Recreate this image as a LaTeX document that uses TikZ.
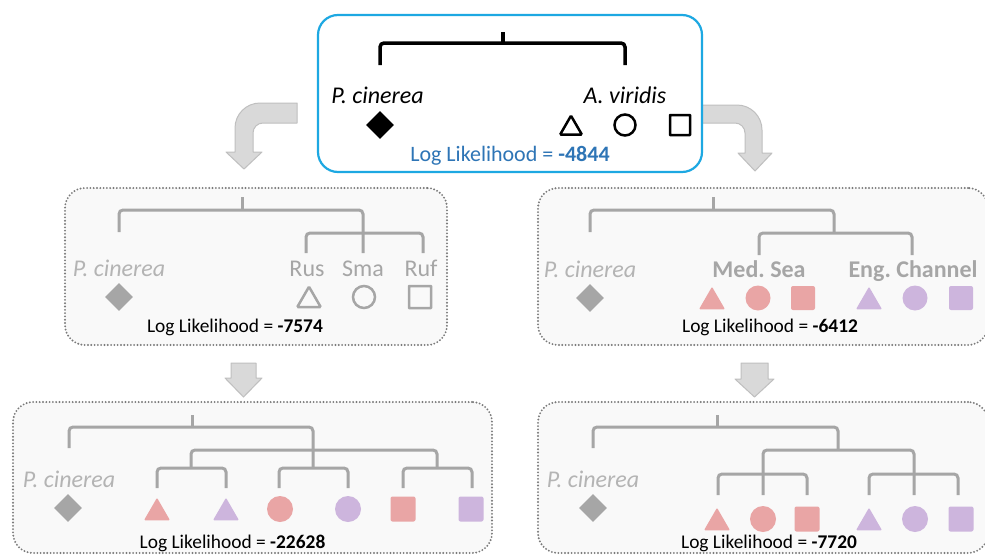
\documentclass[tikz,border=0pt]{standalone}
\usepackage{fontspec}
\setmainfont{Carlito}
\frenchspacing
\usetikzlibrary{shapes.geometric}
\definecolor{boxblue}{HTML}{1DA8E2}
\definecolor{txtblue}{HTML}{2E75B6}
\definecolor{treegray}{HTML}{A6A6A6}
\definecolor{lblgray}{HTML}{A6A6A6}
\definecolor{italgray}{HTML}{B4B4B4}
\definecolor{pinkc}{HTML}{E9A5A5}
\definecolor{purpc}{HTML}{CDB5DD}
\definecolor{arrfill}{HTML}{D9D9D9}
\definecolor{arrline}{HTML}{BFBFBF}
\definecolor{boxfill}{HTML}{F9F9F9}
\definecolor{dotgray}{HTML}{7A7A7A}
\tikzset{
  topbox/.style={draw=boxblue, line width=2.2pt, rounded corners=20pt, fill=white, inner sep=0pt},
  dotbox/.style={draw=dotgray, line width=2.1pt, dash pattern=on 0pt off 3.3pt, line cap=round, rounded corners=20pt, fill=boxfill, inner sep=0pt},
  lbl/.style={font=\fontsize{24}{28}\selectfont, anchor=base, inner sep=0pt},
  llk/.style={font=\fontsize{19.4}{23}\selectfont, anchor=base, inner sep=0pt},
  tree/.style={line width=3pt, draw=treegray, rounded corners=4pt},
  arrowsty/.style={fill=arrfill, draw=arrline, line width=1pt, line join=round},
  dia/.style={diamond, minimum width=28pt, minimum height=28pt, inner sep=0pt},
  tri/.style={regular polygon, regular polygon sides=3, minimum size=30pt, inner sep=0pt, yshift=-3.75pt, rounded corners=1pt},
  circ/.style={circle, minimum size=25pt, inner sep=0pt},
  sq/.style={rectangle, minimum size=24pt, inner sep=0pt, rounded corners=2pt},
}
\begin{document}
\begin{tikzpicture}[x=1pt,y=-1pt]
\useasboundingbox (0,0) rectangle (985,557);
\clip (0,0) rectangle (985,557);
\fill[white] (0,0) rectangle (985,557);

% curved arrows
\path[arrowsty] (297,103) -- (260,103) arc[start angle=270, end angle=180, radius=25]
  -- (235,152) -- (226,152) -- (244,169) -- (262,152) -- (253,152) -- (253,133)
  arc[start angle=180, end angle=270, radius=10] -- (297,123) -- cycle;
\path[arrowsty] (700,105) -- (737,105) arc[start angle=270, end angle=360, radius=25]
  -- (762,153) -- (772,153) -- (755,171) -- (738,153) -- (745,153) -- (745,133)
  arc[start angle=0, end angle=-90, radius=10] -- (700,123) -- cycle;

% down arrows
\path[arrowsty] (231,363) -- (256,363) -- (256,378) -- (262,378) -- (243.5,397) -- (225,378) -- (231,378) -- cycle;
\path[arrowsty] (741,363) -- (768,363) -- (768,379) -- (774,379) -- (754.5,397) -- (735,379) -- (741,379) -- cycle;

% boxes
\node[topbox, minimum width=384pt, minimum height=157pt] (topb) at (510,93.5) {};
\node[dotbox, minimum width=382pt, minimum height=157pt] (mlb) at (256,266.5) {};
\node[dotbox, minimum width=450pt, minimum height=157pt] (mrb) at (763,266.5) {};
\node[dotbox, minimum width=479pt, minimum height=151pt] (blb) at (252.5,477.5) {};
\node[dotbox, minimum width=450pt, minimum height=151pt] (brb) at (763,477.5) {};

% ---------- top box ----------
\draw[line width=3.5pt, rounded corners=4pt] (503,32) -- (503,43);
\draw[line width=3.5pt, rounded corners=4pt] (380,65) -- (380,43) -- (625,43) -- (625,65);
\node[lbl, font=\fontsize{24}{28}\selectfont\itshape] (tpc) at (377.5,103) {P. cinerea};
\node[lbl, font=\fontsize{24}{28}\selectfont\itshape] (tav) at (625,103) {A. viridis};
\node[dia, fill=black] (td) at (380,125) {};
\node[tri, draw=black, line width=2.5pt, minimum size=25pt, yshift=0.5pt] (tt) at (571,125) {};
\node[circ, draw=black, line width=2.5pt, minimum size=21pt] (tc) at (625,125) {};
\node[sq, draw=black, line width=2.5pt, minimum size=20pt, rounded corners=0.5pt] (ts) at (680,125) {};
\node[llk, text=txtblue, font=\fontsize{22}{26}\selectfont] (tll) at (510,161) {Log Likelihood = \textbf{-4844}};

% ---------- middle left ----------
\draw[tree] (242,197) -- (242,210);
\draw[tree] (119,232) -- (119,210) -- (363,210) -- (363,253);
\draw[tree] (306,253) -- (306,233) -- (423,233) -- (423,253);
\node[lbl, text=italgray, font=\fontsize{24}{28}\selectfont\itshape] (mlpc) at (119,276) {P. cinerea};
\node[lbl, text=lblgray] (mlrus) at (307,276) {Rus};
\node[lbl, text=lblgray] (mlsma) at (363,276) {Sma};
\node[lbl, text=lblgray] (mlruf) at (421,276) {Ruf};
\node[dia, fill=treegray] (mld) at (119,297) {};
\node[tri, draw=treegray, line width=2.5pt, minimum size=27pt, yshift=0.5pt] (mlt) at (309,297) {};
\node[circ, draw=treegray, line width=2.5pt, minimum size=22pt] (mlc) at (364,297) {};
\node[sq, draw=treegray, line width=2.5pt, minimum size=22pt, rounded corners=0.5pt] (mls) at (420,297) {};
\node[llk] (mlll) at (235,332) {Log Likelihood = \textbf{-7574}};

% ---------- middle right ----------
\draw[tree] (713,197) -- (713,210);
\draw[tree] (590,232) -- (590,210) -- (834,210) -- (834,233);
\draw[tree] (759,255) -- (759,233) -- (912,233) -- (912,255);
\node[lbl, text=italgray, font=\fontsize{24}{28}\selectfont\itshape] (mrpc) at (590,277) {P. cinerea};
\node[lbl, text=lblgray, font=\fontsize{24}{28}\selectfont\bfseries] (mrmed) at (759,277) {Med. Sea};
\node[lbl, text=lblgray, font=\fontsize{24}{28}\selectfont\bfseries] (mreng) at (913,277) {Eng. Channel};
\node[dia, fill=treegray] (mrd) at (590,298) {};
\node[tri, fill=pinkc] (mrt1) at (712,298) {};
\node[circ, fill=pinkc] (mrc1) at (758,298) {};
\node[sq, fill=pinkc] (mrs1) at (803,298) {};
\node[tri, fill=purpc] (mrt2) at (869,298) {};
\node[circ, fill=purpc] (mrc2) at (915,298) {};
\node[sq, fill=purpc] (mrs2) at (961,298) {};
\node[llk] (mrll) at (770,332) {Log Likelihood = \textbf{-6412}};

% ---------- bottom left ----------
\draw[tree] (192,415) -- (192,427);
\draw[tree] (69,448) -- (69,427) -- (313,427) -- (313,468);
\draw[tree] (191,468) -- (191,450) -- (437,450) -- (437,468);
\draw[tree] (157,488) -- (157,468) -- (226,468) -- (226,488);
\draw[tree] (279,488) -- (279,468) -- (348,468) -- (348,488);
\draw[tree] (403,488) -- (403,468) -- (472,468) -- (472,488);
\node[lbl, text=italgray, font=\fontsize{24}{28}\selectfont\itshape] (blpc) at (69,487) {P. cinerea};
\node[dia, fill=treegray] (bld) at (68,508) {};
\node[tri, fill=pinkc] (blt1) at (157,509) {};
\node[tri, fill=purpc] (blt2) at (226,509) {};
\node[circ, fill=pinkc, minimum size=26pt] (blc1) at (280,509) {};
\node[circ, fill=purpc, minimum size=26pt] (blc2) at (348,509) {};
\node[sq, fill=pinkc, minimum size=25pt] (bls1) at (403,509) {};
\node[sq, fill=purpc, minimum size=25pt] (bls2) at (471,509) {};
\node[llk] (blll) at (232.5,548) {Log Likelihood = \textbf{-22628}};

% ---------- bottom right ----------
\draw[tree] (717,415) -- (717,427);
\draw[tree] (593,448) -- (593,427) -- (838,427) -- (838,450);
\draw[tree] (763,495) -- (763,450) -- (914,450) -- (914,495);
\draw[tree] (718,495) -- (718,474) -- (807,474) -- (807,495);
\draw[tree] (869,495) -- (869,474) -- (958,474) -- (958,495);
\node[lbl, text=italgray, font=\fontsize{24}{28}\selectfont\itshape] (brpc) at (593,487) {P. cinerea};
\node[dia, fill=treegray] (brd) at (593,508) {};
\node[tri, fill=pinkc] (brt1) at (717,519) {};
\node[circ, fill=pinkc, minimum size=26pt] (brc1) at (763,519) {};
\node[sq, fill=pinkc, minimum size=25pt] (brs1) at (807,519) {};
\node[tri, fill=purpc] (brt2) at (869,519) {};
\node[circ, fill=purpc, minimum size=26pt] (brc2) at (915,519) {};
\node[sq, fill=purpc, minimum size=25pt] (brs2) at (961,519) {};
\node[llk] (brll) at (769,548) {Log Likelihood = \textbf{-7720}};
\end{tikzpicture}
\end{document}
